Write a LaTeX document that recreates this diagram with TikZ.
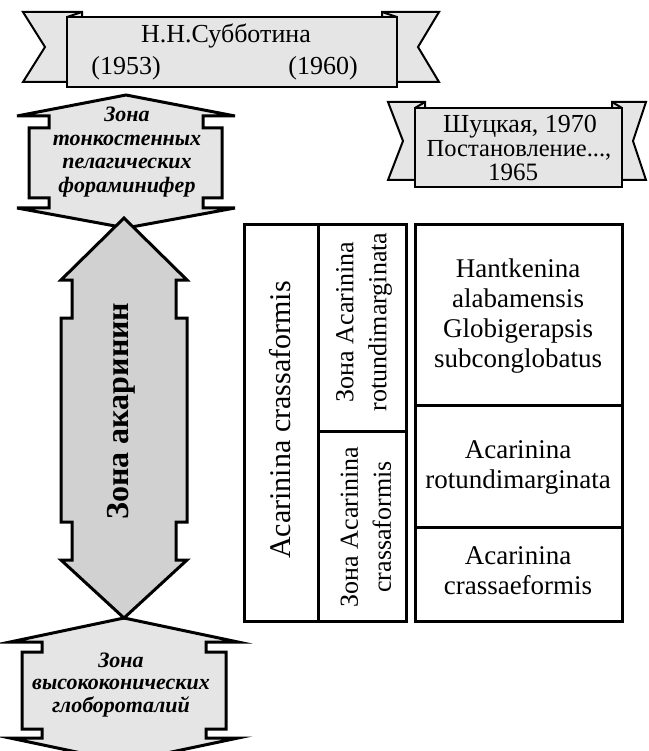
\documentclass[tikz,border=0pt]{standalone}
\usepackage{fontspec}
\setmainfont{Liberation Serif}
\definecolor{bandgray}{gray}{0.9}
\definecolor{zonegray}{gray}{0.9}
\definecolor{arrowgray}{gray}{0.82}
\begin{document}
\begin{tikzpicture}[x=1pt,y=-1pt,
  band/.style={draw=black, line width=2pt, fill=bandgray, line join=miter},
  zone/.style={draw=black, line width=3pt, fill=zonegray, line join=miter},
  bigarrow/.style={draw=black, line width=3pt, fill=arrowgray, line join=miter},
  frame/.style={draw=black, line width=3pt},
  txt/.style={inner sep=0pt, align=center},
  bandtxt/.style={txt, font=\fontsize{26}{26}\selectfont},
  zonetxt/.style={txt, font=\fontsize{22}{23.5}\selectfont\bfseries\itshape},
  celltxt/.style={txt, font=\fontsize{27}{30}\selectfont},
  sidetxt/.style={txt, rotate=90, font=\fontsize{26}{33}\selectfont}]
\useasboundingbox (0,0) rectangle (648,751);
\clip (0,0) rectangle (648,751);

% ---- ribbon: Субботина ----
\draw[band] (23,12) -- (82,12) -- (82,82) -- (23,82) -- (45,47) -- cycle;
\draw[band] (439,12) -- (382,12) -- (382,82) -- (439,82) -- (418,47) -- cycle;
\draw[band] (67,17) rectangle (397,87);
\draw[line width=2pt] (67,17) -- (82,12) (397,17) -- (382,12);
\node[bandtxt, anchor=base] (sub) at (226,43) {Н.Н.Субботина};
\node[bandtxt, anchor=base] (y53) at (126,75) {(1953)};
\node[bandtxt, anchor=base] (y60) at (323,75) {(1960)};

% ---- ribbon: Шуцкая ----
\draw[band] (388,102) -- (425,102) -- (425,180) -- (388,180) -- (403,141) -- cycle;
\draw[band] (646,102) -- (612,102) -- (612,180) -- (646,180) -- (633,141) -- cycle;
\draw[band] (415,108) rectangle (622,187);
\draw[line width=2pt] (415,108) -- (425,102) (622,108) -- (612,102);
\node[bandtxt, anchor=base] (shu) at (520,133) {Шуцкая, 1970};
\node[bandtxt, anchor=base, font=\fontsize{24.5}{24.5}\selectfont] (post) at (519,157) {Постановление...,};
\node[bandtxt, anchor=base, font=\fontsize{25}{25}\selectfont] (y65) at (513,181) {1965};

% ---- upper zone ----
\draw[zone] (126,95) -- (235,116) -- (203,116) -- (203,128) -- (222,128)
  -- (222,198) -- (203,198) -- (203,208) -- (235,208) -- (126,228)
  -- (17,208) -- (49,208) -- (49,198) -- (29,198) -- (29,128)
  -- (49,128) -- (49,116) -- (17,116) -- cycle;
\node[zonetxt] (ztop) at (127,152) {Зона\\тонкостенных\\пелагических\\фораминифер};

% ---- lower zone ----
\draw[zone] (124,618) -- (238,642) -- (206,642) -- (206,652) -- (226,652)
  -- (226,729) -- (206,729) -- (206,738) -- (238,738) -- (124,762)
  -- (10,738) -- (42,738) -- (42,729) -- (22,729) -- (22,652)
  -- (42,652) -- (42,642) -- (10,642) -- cycle;
\node[zonetxt, font=\fontsize{22}{22.5}\selectfont\bfseries\itshape] (zbot) at (121,685) {Зона\\высококонических\\глобороталий};

% ---- double arrow ----
\draw[bigarrow] (124,218) -- (187,280) -- (176,280) -- (176,318) -- (187,318)
  -- (187,522) -- (176,522) -- (176,560) -- (187,560) -- (124,618)
  -- (61,560) -- (72,560) -- (72,522) -- (61,522) -- (61,318)
  -- (72,318) -- (72,280) -- (61,280) -- cycle;
\node[txt, rotate=90, font=\fontsize{32}{32}\selectfont\bfseries] (aka) at (121,411) {Зона акаринин};

% ---- left table ----
\draw[frame] (244,224) rectangle (406,621);
\draw[frame] (318,224) -- (318,621);
\draw[frame] (318,431) -- (406,431);
\node[txt, rotate=90, font=\fontsize{30}{30}\selectfont] (acr) at (280,420) {Acarinina crassaformis};
\node[sidetxt] (zrot) at (364,322) {Зона Acarinina\\rotundimarginata};
\node[sidetxt] (zcra) at (366,527) {Зона Acarinina\\crassaformis};

% ---- right table ----
\draw[frame] (415,224) rectangle (622,621);
\draw[frame] (415,405) -- (622,405);
\draw[frame] (415,527) -- (622,527);
\node[celltxt] (hant) at (518,316) {Hantkenina\\alabamensis\\Globigerapsis\\subconglobatus};
\node[celltxt] (arot) at (518,467) {Acarinina\\rotundimarginata};
\node[celltxt] (acra) at (518,571) {Acarinina\\crassaeformis};
\end{tikzpicture}
\end{document}
